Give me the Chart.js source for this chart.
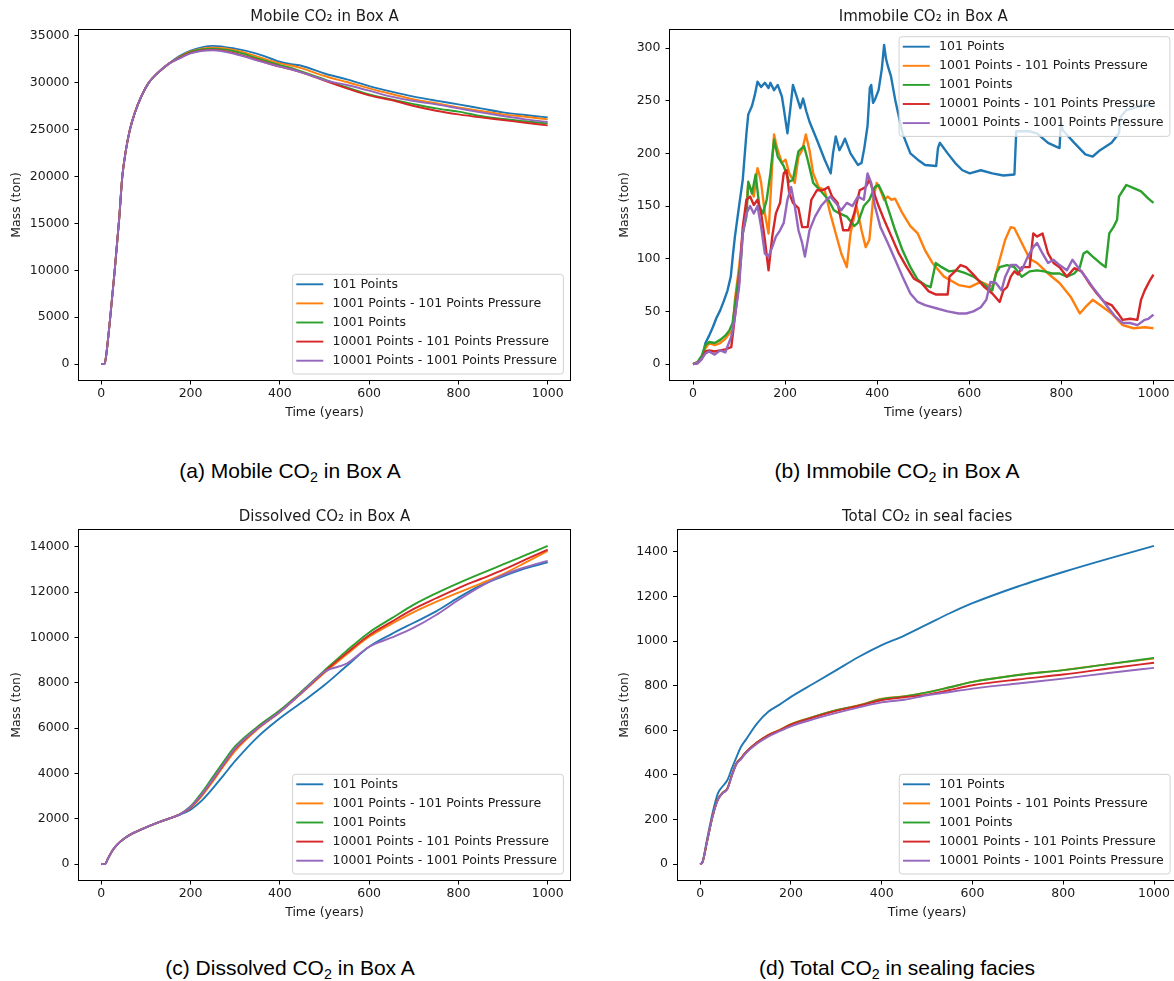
<!DOCTYPE html>
<html>
<head>
<meta charset="utf-8">
<title>CO2 in Box A</title>
<script src="https://cdn.jsdelivr.net/npm/chart.js@4.4.0/dist/chart.umd.min.js"></script>
<style>
  html, body { margin: 0; padding: 0; background: #fff; width: 1174px; height: 981px; overflow: hidden; }
  canvas { position: absolute; }
  .caption {
    position: absolute; width: 420px; text-align: center;
    font-family: 'Liberation Sans', Arial, sans-serif; font-size: 21px; line-height: 24px; color: #000;
  }
  .caption sub { font-size: 0.68em; line-height: 0; vertical-align: -0.3em; }
</style>
</head>
<body>
<canvas id="mobile" width="590" height="430" style="left:0;top:0"></canvas>
<canvas id="immobile" width="610" height="430" style="left:590px;top:0"></canvas>
<canvas id="dissolved" width="590" height="430" style="left:0;top:500px"></canvas>
<canvas id="seal" width="610" height="430" style="left:590px;top:500px"></canvas>

<div class="caption" style="left:80px;top:459px">(a) Mobile CO<sub>2</sub> in Box A</div>
<div class="caption" style="left:687px;top:459px">(b) Immobile CO<sub>2</sub> in Box A</div>
<div class="caption" style="left:80px;top:956px">(c) Dissolved CO<sub>2</sub> in Box A</div>
<div class="caption" style="left:687px;top:956px">(d) Total CO<sub>2</sub> in sealing facies</div>

<script>
// series names, same order in every panel
const seriesNames = [
  '101 Points',
  '1001 Points - 101 Points Pressure',
  '1001 Points',
  '10001 Points - 101 Points Pressure',
  '10001 Points - 1001 Points Pressure'
];
const timeTicks = [0, 200, 400, 600, 800, 1000];

// (a) mobile CO2 in box A
const mobileTime = [0, 7, 10, 20, 30, 40, 47, 55, 64, 75, 90, 106, 125, 150, 175, 200, 250, 300, 350, 400, 425, 450, 500, 550, 600, 650, 700, 750, 800, 850, 900, 950, 1000];
const mobile101 = [0, 0, 600, 5000, 10000, 15500, 20000, 22800, 25000, 26800, 28600, 30000, 31000, 32000, 32850, 33450, 33950, 33650, 33100, 32250, 32000, 31800, 31000, 30380, 29660, 29060, 28530, 28100, 27710, 27280, 26850, 26570, 26320];
const mobile1001p101 = [0, 0, 600, 5000, 10000, 15500, 20000, 22800, 25000, 26800, 28600, 30000, 31000, 32000, 32750, 33350, 33750, 33500, 32800, 32080, 31850, 31550, 30730, 30090, 29420, 28810, 28240, 27820, 27390, 27000, 26640, 26390, 26110];
const mobile1001 = [0, 0, 600, 5000, 10000, 15500, 20000, 22800, 25000, 26800, 28600, 30000, 31000, 32000, 32700, 33300, 33650, 33350, 32620, 31900, 31600, 31190, 30380, 29520, 28780, 28240, 27740, 27280, 26930, 26460, 26140, 25900, 25680];
const mobile10001p101 = [0, 0, 600, 5000, 10000, 15500, 20000, 22800, 25000, 26800, 28600, 30000, 31000, 32000, 32650, 33200, 33550, 33150, 32440, 31730, 31450, 31090, 30250, 29420, 28670, 28170, 27530, 27030, 26640, 26320, 26040, 25750, 25470];
const mobile10001p1001 = [0, 0, 600, 5000, 10000, 15500, 20000, 22800, 25000, 26800, 28600, 30000, 31000, 32000, 32600, 33150, 33480, 33080, 32370, 31730, 31450, 31090, 30300, 29770, 29170, 28530, 28060, 27710, 27280, 26850, 26460, 26110, 25820];
const mobileTicks = [0, 5000, 10000, 15000, 20000, 25000, 30000, 35000];

// (b) immobile CO2 in box A, [time, mass] pairs
const immobile101 = [[0,0],[10,1],[19,5],[27,20],[35,27],[43,35],[51,44],[59,51],[67,60],[75,70],[82,83],[87,105],[91,121],[100,150],[108,175],[116,219],[120,237],[128,245],[134,255],[140,268],[148,263],[156,267],[164,262],[168,267],[176,260],[184,265],[193,254],[198,240],[205,219],[212,245],[217,265],[225,254],[233,243],[239,252],[246,240],[253,230],[269,213],[286,194],[299,181],[304,200],[310,216],[318,203],[324,208],[330,214],[342,200],[358,189],[366,191],[372,205],[379,226],[384,262],[387,265],[391,248],[395,251],[403,260],[410,280],[415,303],[419,290],[423,283],[430,273],[439,251],[455,219],[472,200],[488,194],[504,189],[528,188],[532,205],[536,210],[553,200],[569,191],[585,184],[601,181],[625,184],[650,181],[674,179],[698,180],[702,221],[706,221],[730,221],[747,219],[771,210],[791,206],[796,205],[799,229],[803,222],[828,210],[852,199],[868,197],[884,203],[909,210],[925,219],[929,235],[941,241],[973,245],[1000,246]];
const immobile1001p101 = [[0,0],[10,2],[19,7],[27,15],[35,20],[47,18],[59,20],[70,24],[79,29],[86,32],[91,61],[100,92],[108,124],[116,150],[120,172],[124,168],[132,159],[140,186],[144,180],[148,172],[156,143],[164,124],[168,156],[172,190],[176,218],[180,210],[184,203],[193,191],[201,194],[209,181],[221,172],[229,197],[237,203],[245,218],[253,203],[261,181],[273,168],[286,165],[298,143],[310,124],[322,105],[334,92],[342,124],[355,150],[366,127],[375,111],[383,118],[391,156],[399,172],[407,165],[415,156],[423,159],[431,156],[439,157],[455,143],[472,131],[488,124],[504,108],[520,96],[545,83],[577,75],[601,73],[625,78],[650,73],[666,99],[678,118],[690,130],[698,129],[714,115],[731,100],[747,96],[771,86],[796,77],[820,64],[840,48],[852,54],[868,61],[884,56],[909,48],[933,37],[957,34],[981,35],[1000,34]];
const immobile1001 = [[0,0],[10,2],[19,8],[27,18],[35,21],[47,20],[59,23],[70,27],[79,32],[86,39],[95,70],[104,99],[108,124],[116,140],[120,173],[128,162],[136,180],[144,150],[152,143],[160,156],[168,181],[176,213],[184,197],[197,188],[209,173],[217,175],[229,202],[241,207],[249,194],[261,172],[278,164],[294,156],[306,146],[318,143],[334,140],[350,131],[358,134],[371,150],[383,156],[395,168],[403,170],[415,159],[427,143],[439,127],[455,108],[472,92],[488,80],[504,75],[516,73],[527,96],[540,92],[556,88],[573,89],[593,86],[609,83],[625,78],[642,72],[650,70],[658,86],[666,92],[682,94],[698,92],[714,83],[731,88],[747,89],[763,88],[779,86],[796,86],[812,83],[828,86],[840,92],[848,105],[856,107],[868,102],[884,96],[896,92],[904,124],[913,130],[921,137],[925,159],[941,170],[957,167],[973,164],[989,157],[1000,153]];
const immobile10001p101 = [[0,0],[10,1],[19,5],[27,12],[35,13],[47,12],[59,13],[70,14],[83,16],[91,45],[100,77],[108,130],[116,156],[124,159],[132,151],[140,156],[148,143],[156,118],[164,89],[172,121],[180,143],[189,153],[197,181],[203,184],[209,162],[217,153],[229,148],[237,130],[249,130],[257,156],[269,165],[282,165],[294,168],[302,159],[314,153],[326,127],[338,127],[350,143],[362,165],[375,168],[383,175],[391,165],[403,150],[415,137],[431,121],[447,105],[464,92],[480,81],[496,77],[512,69],[528,66],[553,66],[557,83],[569,88],[581,94],[593,92],[609,85],[633,73],[650,67],[666,59],[674,70],[682,73],[690,83],[698,88],[706,85],[714,92],[731,92],[739,124],[747,121],[759,124],[771,105],[783,96],[796,92],[812,83],[828,91],[844,88],[860,77],[877,67],[893,59],[909,56],[925,47],[933,42],[949,43],[965,42],[973,61],[981,70],[993,80],[1000,85]];
const immobile10001p1001 = [[0,0],[10,1],[19,5],[27,10],[35,12],[47,9],[59,13],[70,11],[83,26],[91,45],[100,73],[108,124],[116,143],[124,150],[132,143],[140,150],[148,130],[156,105],[164,102],[172,111],[180,121],[189,127],[197,134],[205,156],[213,168],[221,150],[229,127],[237,115],[243,102],[253,127],[265,140],[278,150],[290,156],[298,159],[310,153],[322,146],[334,153],[346,150],[358,159],[371,156],[379,181],[387,172],[395,150],[407,130],[423,115],[439,99],[455,83],[472,67],[488,59],[504,56],[528,53],[553,50],[577,48],[593,48],[609,50],[625,54],[637,61],[646,78],[658,77],[670,70],[678,83],[690,94],[702,94],[714,89],[727,102],[739,111],[747,115],[759,105],[771,96],[783,99],[796,94],[812,89],[824,99],[836,92],[852,83],[868,73],[884,64],[901,54],[917,45],[933,39],[949,39],[965,37],[981,42],[989,43],[1000,47]];
const immobileTicks = [0, 50, 100, 150, 200, 250, 300];

// (c) dissolved CO2 in box A
const dissolvedTime = [0, 8, 15, 25, 35, 50, 75, 100, 125, 150, 175, 200, 225, 250, 275, 300, 350, 400, 450, 500, 550, 600, 650, 700, 750, 800, 850, 900, 950, 1000];
const dissolved101 = [0, 0, 250, 600, 850, 1110, 1400, 1620, 1820, 2000, 2170, 2400, 2800, 3350, 3950, 4550, 5600, 6430, 7150, 7900, 8750, 9590, 10150, 10650, 11150, 11760, 12300, 12700, 13050, 13310];
const dissolved1001p101 = [0, 0, 250, 600, 850, 1110, 1400, 1620, 1820, 2000, 2185, 2480, 3000, 3650, 4350, 5000, 5950, 6700, 7560, 8440, 9260, 10030, 10600, 11120, 11570, 11980, 12380, 12800, 13300, 13820];
const dissolved1001 = [0, 0, 250, 600, 850, 1110, 1400, 1620, 1820, 2000, 2190, 2550, 3150, 3850, 4550, 5200, 6060, 6790, 7640, 8540, 9420, 10220, 10840, 11450, 11950, 12400, 12820, 13220, 13630, 14040];
const dissolved10001p101 = [0, 0, 250, 600, 850, 1110, 1400, 1620, 1820, 2000, 2185, 2500, 3050, 3720, 4420, 5080, 5990, 6720, 7590, 8490, 9320, 10100, 10690, 11260, 11730, 12180, 12580, 12980, 13430, 13880];
const dissolved10001p1001 = [0, 0, 250, 600, 850, 1110, 1400, 1620, 1820, 2000, 2185, 2520, 3080, 3750, 4450, 5120, 5990, 6720, 7590, 8490, 8850, 9590, 9990, 10430, 10990, 11650, 12250, 12750, 13100, 13380];
const dissolvedTicks = [0, 2000, 4000, 6000, 8000, 10000, 12000, 14000];

// (d) total CO2 in seal facies
const sealTime = [0, 5, 15, 27, 39, 50, 60, 70, 80, 90, 100, 125, 150, 175, 200, 250, 300, 350, 400, 450, 500, 550, 600, 700, 800, 900, 1000];
const seal101 = [0, 10, 110, 227, 317, 350, 377, 430, 480, 526, 556, 630, 683, 715, 750, 810, 870, 930, 982, 1025, 1075, 1125, 1170, 1245, 1310, 1370, 1427];
const seal1001p101 = [0, 8, 100, 212, 290, 320, 339, 400, 451, 474, 500, 545, 580, 602, 628, 661, 690, 713, 742, 753, 770, 793, 817, 848, 870, 897, 922];
const seal1001 = [0, 8, 100, 212, 290, 320, 339, 400, 451, 474, 500, 545, 578, 600, 627, 660, 690, 712, 740, 752, 770, 793, 817, 848, 870, 897, 925];
const seal10001p101 = [0, 8, 100, 212, 290, 320, 339, 400, 451, 474, 500, 545, 578, 600, 625, 658, 687, 710, 735, 748, 760, 781, 802, 828, 850, 877, 903];
const seal10001p1001 = [0, 8, 100, 210, 288, 318, 336, 396, 448, 470, 496, 540, 572, 596, 618, 650, 678, 703, 725, 737, 757, 772, 787, 810, 832, 857, 880];
const sealTicks = [0, 200, 400, 600, 800, 1000, 1200, 1400];

const COLORS = ['#1f77b4', '#ff7f0e', '#2ca02c', '#d62728', '#9467bd'];
const FONT = "'DejaVu Sans', sans-serif";
const INK = '#1a1a1a';

const toPoints = (time, vals) => time.map((t, k) => ({ x: t, y: vals[k] }));
const pairPoints = pairs => pairs.map(([t, v]) => ({ x: t, y: v }));

// black box round the plot area, matplotlib style
const frame = {
  id: 'frame',
  afterDatasetsDraw(chart) {
    const { ctx, chartArea: a } = chart;
    ctx.save();
    ctx.strokeStyle = '#000';
    ctx.lineWidth = 1;
    const l = Math.round(a.left), t = Math.round(a.top), r = Math.round(a.right), b = Math.round(a.bottom);
    ctx.strokeRect(l - 0.5, t - 0.5, r - l + 1, b - t + 1);
    ctx.restore();
  }
};

// legend drawn inside the axes
const insideLegend = {
  id: 'insideLegend',
  afterDraw(chart, args, opts) {
    const { ctx, chartArea: a } = chart;
    const sets = chart.data.datasets;
    ctx.save();
    ctx.font = '12.5px ' + FONT;
    const textW = Math.max(...sets.map(d => ctx.measureText(d.label).width));
    const rowH = 19.1;
    const w = 40 + textW + 6.4;
    const h = rowH * sets.length + 4.2;
    const x = a.right - 6.6 - w;
    const y = opts.corner === 'upper' ? a.top + 6.7 : a.bottom - 6 - h;
    ctx.beginPath();
    if (ctx.roundRect) ctx.roundRect(x, y, w, h, 3); else ctx.rect(x, y, w, h);
    ctx.fillStyle = 'rgba(255,255,255,0.8)';
    ctx.fill();
    ctx.strokeStyle = 'rgba(204,204,204,0.9)';
    ctx.lineWidth = 1;
    ctx.stroke();
    sets.forEach((d, i) => {
      const cy = y + 10 + i * rowH;
      ctx.beginPath();
      ctx.moveTo(x + 3.7, cy);
      ctx.lineTo(x + 30.7, cy);
      ctx.strokeStyle = d.borderColor;
      ctx.lineWidth = 1.9;
      ctx.stroke();
      ctx.fillStyle = INK;
      ctx.textBaseline = 'middle';
      ctx.textAlign = 'left';
      ctx.fillText(d.label, x + 40, cy);
    });
    ctx.restore();
  }
};

function drawPanel(id, p) {
  const font = { family: FONT, size: 12.5 };
  new Chart(document.getElementById(id), {
    type: 'line',
    data: {
      datasets: p.series.map((pts, i) => ({
        label: seriesNames[i],
        data: pts,
        borderColor: COLORS[i],
        backgroundColor: COLORS[i],
        borderWidth: p.lineWidth,
        pointRadius: 0,
        fill: false,
        tension: 0,
        borderJoinStyle: 'round',
        cubicInterpolationMode: p.smooth ? 'monotone' : 'default',
        order: seriesNames.length - i
      }))
    },
    options: {
      responsive: false,
      animation: false,
      events: [],
      layout: { padding: { left: 0, top: 0, right: p.padRight, bottom: 0 } },
      plugins: {
        legend: { display: false },
        tooltip: { enabled: false },
        title: {
          display: true, text: p.title, fullSize: false, color: INK,
          font: { family: FONT, size: 15, weight: 'normal' },
          padding: { top: 8, bottom: 4 }
        },
        insideLegend: { corner: p.legendCorner }
      },
      scales: {
        x: {
          type: 'linear', min: -50, max: 1050,
          afterBuildTicks: s => { s.ticks = timeTicks.map(v => ({ value: v })); },
          afterFit: s => { s.height = 50; },
          ticks: { color: INK, font, padding: 1.3, maxRotation: 0, callback: v => String(v) },
          grid: { drawOnChartArea: false, color: '#000', tickLength: 4.5 },
          border: { display: false },
          title: { display: true, text: 'Time (years)', color: INK, font, padding: { top: 0, bottom: 10.2 } }
        },
        y: {
          type: 'linear', min: p.yMin, max: p.yMax,
          afterBuildTicks: s => { s.ticks = p.yTicks.map(v => ({ value: v })); },
          afterFit: s => { s.width = p.yWidth; },
          ticks: { color: INK, font, padding: 5, callback: v => String(v) },
          grid: { drawOnChartArea: false, color: '#000', tickLength: 4.5 },
          border: { display: false },
          title: { display: true, text: 'Mass (ton)', color: INK, font, padding: { top: p.yTitlePad, bottom: 0 } }
        }
      }
    },
    plugins: [frame, insideLegend]
  });
}

drawPanel('mobile', {
  title: 'Mobile CO₂ in Box A',
  series: [mobile101, mobile1001p101, mobile1001, mobile10001p101, mobile10001p1001].map(v => toPoints(mobileTime, v)),
  yMin: -1697, yMax: 35640, yTicks: mobileTicks,
  yWidth: 79, yTitlePad: 9.5, padRight: 20, legendCorner: 'lower', lineWidth: 1.9, smooth: true
});

drawPanel('immobile', {
  title: 'Immobile CO₂ in Box A',
  series: [immobile101, immobile1001p101, immobile1001, immobile10001p101, immobile10001p1001].map(pairPoints),
  yMin: -15.1, yMax: 317.1, yTicks: immobileTicks,
  yWidth: 80, yTitlePad: 26.8, padRight: 23.5, legendCorner: 'upper', lineWidth: 2.4, smooth: false
});

drawPanel('dissolved', {
  title: 'Dissolved CO₂ in Box A',
  series: [dissolved101, dissolved1001p101, dissolved1001, dissolved10001p101, dissolved10001p1001].map(v => toPoints(dissolvedTime, v)),
  yMin: -702, yMax: 14742, yTicks: dissolvedTicks,
  yWidth: 79, yTitlePad: 9.5, padRight: 20, legendCorner: 'lower', lineWidth: 1.9, smooth: true
});

drawPanel('seal', {
  title: 'Total CO₂ in seal facies',
  series: [seal101, seal1001p101, seal1001, seal10001p101, seal10001p1001].map(v => toPoints(sealTime, v)),
  yMin: -71.4, yMax: 1498.4, yTicks: sealTicks,
  yWidth: 87.5, yTitlePad: 26.8, padRight: 23.3, legendCorner: 'lower', lineWidth: 1.9, smooth: true
});
</script>
</body>
</html>
